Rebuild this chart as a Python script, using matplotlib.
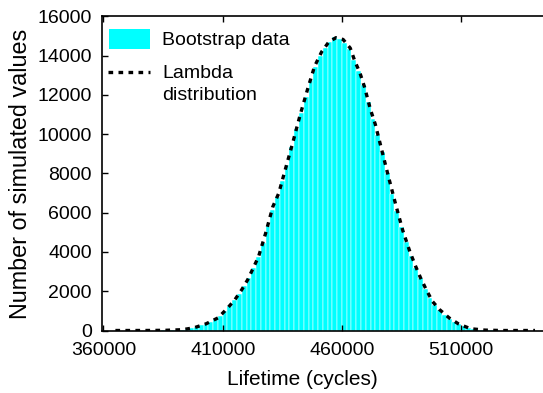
import numpy as np
import matplotlib
matplotlib.use("Agg")
import matplotlib.pyplot as plt
from matplotlib.patches import Rectangle

plt.rcParams["font.family"] = ["Liberation Sans", "DejaVu Sans"]

# histogram of bootstrap lifetimes, bin width 2000 cycles
bin_start = 384000
bin_width = 2000
counts = [5, 12, 20, 32, 45, 75, 118, 175, 255, 345,
          440, 590, 750, 985, 1260, 1540, 1880, 2250, 2680, 3200,
          3720, 4480, 5300, 6120, 6820, 7600, 8450, 9350, 10250, 11100,
          11900, 12750, 13450, 14000, 14380, 14700, 14930, 14850, 14650, 14350,
          13800, 13200, 12500, 11650, 10800, 9950, 9100, 8050, 6950, 6100,
          5280, 4500, 3820, 3200, 2650, 2130, 1650, 1280, 1040, 810,
          600, 450, 320, 205, 115, 68, 42, 24, 14, 7, 3]

# fitted lambda distribution
lam_x = [365000, 372000, 379000, 386000, 393000, 398000, 403000, 408000,
         411500, 415000, 418000, 420500, 425000, 428000, 431000, 433500,
         436500, 439500, 442500, 445500, 448500, 451500, 454500, 457500,
         460500, 463500, 465500, 467500, 469500, 472000, 474000, 476500,
         479500, 482500, 485500, 488500, 491000, 493000, 495500, 498000,
         501000, 505000, 509000, 514000, 520000, 527000, 534000, 541000]
lam_y = [0, 0, 2, 10, 40, 140, 340, 640,
         1070, 1550, 2080, 2590, 3750, 4950, 6300, 6990,
         8310, 9620, 10990, 12250, 13450, 14200, 14700, 14920,
         14830, 14390, 13700, 13150, 12400, 11250, 10510, 9300,
         7850, 6450, 5110, 4020, 3250, 2680, 2050, 1480,
         1060, 640, 330, 90, 20, 0, 0, 0]

xticks = [360000, 410000, 460000, 510000]
yticks = list(range(0, 16001, 2000))

CYAN = "#00FFFF"
DASHES = [1.4, 1.6]

W, H = 543, 393
fig = plt.figure(figsize=(W / 100, H / 100), dpi=100)
ax = fig.add_axes([101.7 / W, (H - 330.5) / H, (W - 101.7) / W, (330.5 - 16.5) / H])

centers = bin_start + bin_width / 2 + bin_width * np.arange(len(counts))
ax.bar(centers, counts, width=bin_width, color=CYAN,
       edgecolor="white", linewidth=0.35)
ax.plot(lam_x, lam_y, color="black", linewidth=2.4, dashes=DASHES)

ax.set_xlim(359250, 544350)
ax.set_ylim(0, 16000)
ax.set_xticks(xticks)
ax.set_yticks(yticks)
ax.tick_params(direction="in", top=True, right=False, length=4, width=1,
               labelsize=14)
ax.tick_params(axis="y", pad=7)
ax.tick_params(axis="x", pad=8)
ax.spines["right"].set_visible(False)
for s in ["left", "bottom", "top"]:
    ax.spines[s].set_linewidth(1.2)

ax.set_xlabel("Lifetime (cycles)", fontsize=15)
ax.xaxis.set_label_coords(0.454, -0.125)
ax.set_ylabel("Number of simulated values", fontsize=16.8)
ax.yaxis.set_label_coords(-0.158, 0.5)

# legend drawn by hand so the dashed key sits on the first label line
ax.add_patch(Rectangle((0.0166, 0.8965), 0.093, 0.0635, transform=ax.transAxes,
                       facecolor=CYAN, edgecolor="none", clip_on=False))
ax.text(0.1367, 0.909, "Bootstrap data", transform=ax.transAxes,
        fontsize=14, va="baseline")
ax.plot([0.0145, 0.1095], [0.8232, 0.8232], transform=ax.transAxes,
        color="black", linewidth=2.4, dashes=DASHES, clip_on=False)
ax.text(0.1367, 0.804, "Lambda", transform=ax.transAxes,
        fontsize=14, va="baseline")
ax.text(0.1367, 0.7347, "distribution", transform=ax.transAxes,
        fontsize=14, va="baseline")

fig.savefig("out.png", dpi=100)
